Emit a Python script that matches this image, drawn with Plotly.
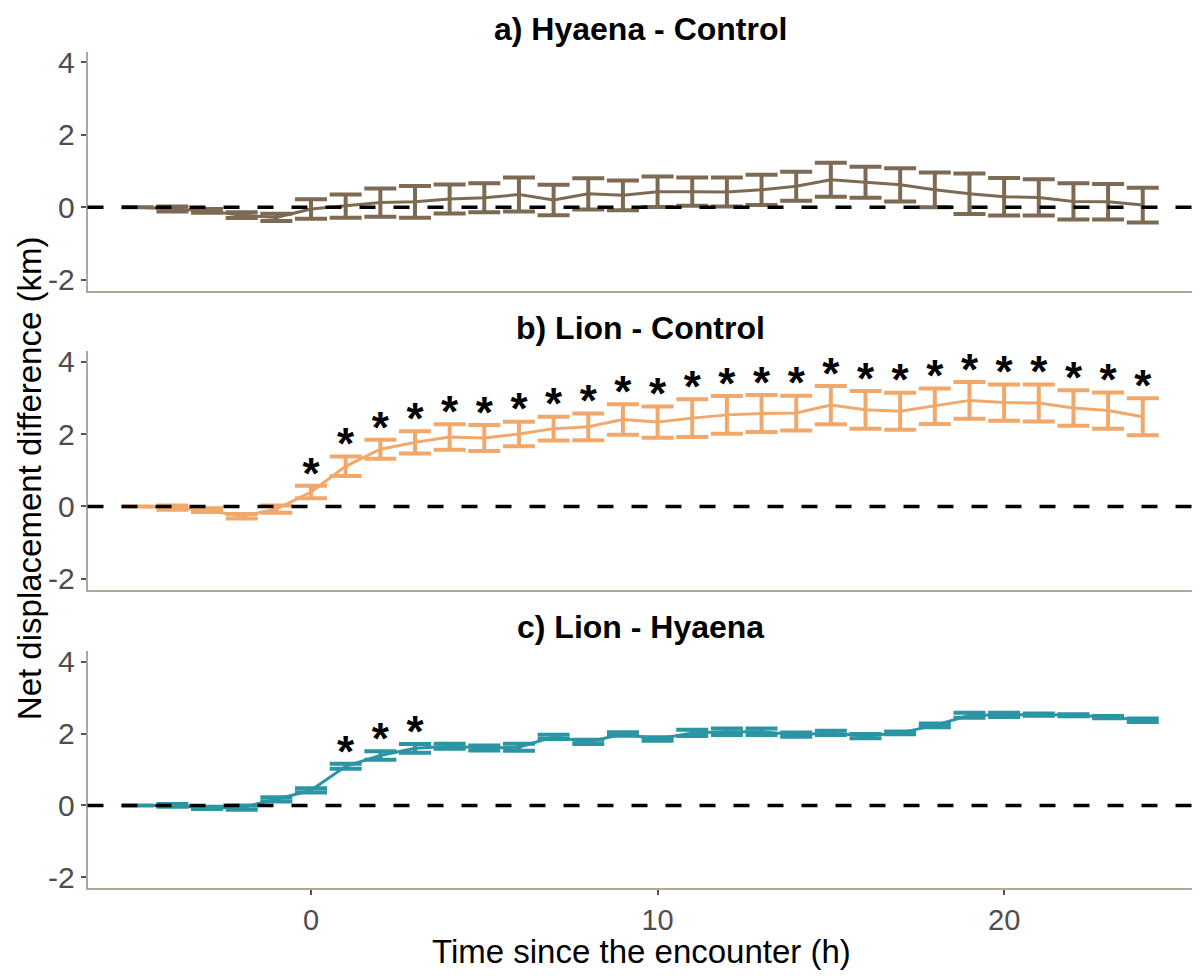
import plotly.graph_objects as go

# ---------------- data ----------------
hours = list(range(-5, 25))

a_mean = [0.0, -0.05, -0.10, -0.22, -0.28, -0.05, 0.03, 0.13, 0.15, 0.23, 0.26, 0.35, 0.20, 0.37, 0.33,
          0.43, 0.43, 0.42, 0.48, 0.58, 0.76, 0.69, 0.62, 0.48, 0.37, 0.29, 0.27, 0.16, 0.15, 0.06]
a_se = [0.0, 0.07, 0.05, 0.08, 0.10, 0.27, 0.32, 0.39, 0.44, 0.40, 0.40, 0.47, 0.42, 0.43, 0.41,
        0.42, 0.39, 0.40, 0.42, 0.40, 0.47, 0.43, 0.46, 0.48, 0.56, 0.52, 0.50, 0.50, 0.49, 0.48]

b_mean = [0.0, -0.03, -0.10, -0.27, -0.07, 0.40, 1.11, 1.58, 1.77, 1.92, 1.89, 2.00, 2.15, 2.20, 2.40,
          2.33, 2.44, 2.53, 2.57, 2.58, 2.80, 2.67, 2.63, 2.77, 2.93, 2.87, 2.86, 2.72, 2.65, 2.48]
b_se = [0.0, 0.06, 0.05, 0.06, 0.10, 0.17, 0.27, 0.26, 0.31, 0.35, 0.36, 0.34, 0.33, 0.37, 0.42,
        0.43, 0.52, 0.52, 0.51, 0.48, 0.53, 0.52, 0.51, 0.49, 0.51, 0.50, 0.51, 0.49, 0.50, 0.51]

c_mean = [0.0, 0.0, -0.07, -0.06, 0.17, 0.42, 1.09, 1.39, 1.59, 1.65, 1.60, 1.62, 1.91, 1.77, 1.99,
          1.85, 2.02, 2.05, 2.05, 1.97, 2.02, 1.93, 2.02, 2.23, 2.51, 2.52, 2.53, 2.51, 2.46, 2.37]
c_se = [0.0, 0.04, 0.03, 0.06, 0.06, 0.06, 0.07, 0.12, 0.12, 0.07, 0.07, 0.10, 0.06, 0.06, 0.05,
        0.05, 0.09, 0.09, 0.09, 0.06, 0.06, 0.06, 0.04, 0.05, 0.07, 0.06, 0.03, 0.03, 0.03, 0.05]

b_sig_hours = list(range(0, 25))
c_sig_hours = [1, 2, 3]

panel_titles = ["a) Hyaena - Control", "b) Lion - Control", "c) Lion - Hyaena"]
y_ticks = [-2, 0, 2, 4]
y_ticktext = ["-2", "0", "2", "4"]
x_ticks = [0, 10, 20]
x_title = "Time since the encounter (h)"
y_title = "Net displacement difference (km)"

# ---------------- style ----------------
colors = ["#7D6A53", "#F2A86A", "#2B95A3"]
axis_col = "#B0A797"
# the page body adds an 8px offset, so work in figure pixels = page pixels - 8
OFF = 8
W, H = 1192, 968
x_left_px, x_right_px = 87.5 - OFF, 1193 - OFF
panels_px = [(46 - OFF, 288 - OFF), (349 - OFF, 591 - OFF), (653 - OFF, 893 - OFF)]
title_px = [23 - OFF, 326 - OFF, 629 - OFF]
star_offset = 0.23
FONT = "Liberation Sans, Arial, sans-serif"

panels = [(a_mean, a_se, []), (b_mean, b_se, b_sig_hours), (c_mean, c_se, c_sig_hours)]

fig = go.Figure()
layout = dict(
    width=W, height=H, margin=dict(l=0, r=0, t=0, b=0),
    paper_bgcolor="white", plot_bgcolor="white", showlegend=False,
    font=dict(family=FONT),
)
shapes, annotations = [], []

for i, ((mean, se, sig), col, title, (top, bot), ty) in enumerate(
        zip(panels, colors, panel_titles, panels_px, title_px)):
    n = i + 1
    xa = "x" if n == 1 else f"x{n}"
    ya = "y" if n == 1 else f"y{n}"
    fig.add_trace(go.Scatter(
        x=hours, y=mean, mode="lines", xaxis=xa, yaxis=ya,
        line=dict(color=col, width=3),
        error_y=dict(type="data", array=se, visible=True, color=col, thickness=4, width=16),
        hoverinfo="skip"))
    if sig:
        sy = [mean[hours.index(h)] + se[hours.index(h)] + star_offset for h in sig]
        fig.add_trace(go.Scatter(
            x=sig, y=sy, mode="text", text=["<b>*</b>"] * len(sig), xaxis=xa, yaxis=ya,
            textposition="middle center",
            textfont=dict(size=44, color="black", family=FONT),
            hoverinfo="skip"))
    xdom = [x_left_px / W, x_right_px / W]
    ydom = [1 - bot / H, 1 - top / H]
    bottom = (n == 3)
    layout["xaxis" if n == 1 else f"xaxis{n}"] = dict(
        domain=xdom, range=[-6.45, 25.45], anchor=ya,
        showline=True, linecolor=axis_col, linewidth=1.5,
        showgrid=False, zeroline=False,
        tickvals=x_ticks, showticklabels=bottom,
        ticks="outside" if bottom else "", ticklen=5, tickcolor="#555555", tickwidth=1.5,
        tickfont=dict(size=29, color="#4D4D4D"),
    )
    layout["yaxis" if n == 1 else f"yaxis{n}"] = dict(
        domain=ydom, range=[-2.3, 4.3], anchor=xa,
        showline=True, linecolor=axis_col, linewidth=1.5,
        showgrid=False, zeroline=False,
        tickvals=y_ticks, ticktext=y_ticktext,
        ticks="outside", ticklen=5, tickcolor="#555555", tickwidth=1.5,
        tickfont=dict(size=30, color="#4D4D4D"),
    )
    # zero reference line
    shapes.append(dict(type="line", xref=f"{xa} domain", yref=ya, x0=0, x1=1, y0=0, y1=0,
                       line=dict(color="black", width=3.5, dash="16px,18px"), layer="above"))
    annotations.append(dict(text=f"<b>{title}</b>", xref="paper", yref="paper",
                            x=(xdom[0] + xdom[1]) / 2, y=1 - ty / H,
                            xanchor="center", yanchor="middle", showarrow=False,
                            font=dict(size=32, color="black")))

annotations.append(dict(text=x_title, xref="paper", yref="paper",
                        x=(641 - OFF) / W, y=1 - (957 - OFF) / H,
                        xanchor="center", yanchor="middle", showarrow=False,
                        font=dict(size=33, color="black")))
annotations.append(dict(text=y_title, xref="paper", yref="paper",
                        x=(29 - OFF) / W, y=1 - (478 - OFF) / H, textangle=-90,
                        xanchor="center", yanchor="middle", showarrow=False,
                        font=dict(size=33, color="black")))

layout["shapes"] = shapes
layout["annotations"] = annotations
fig.update_layout(**layout)
fig.write_html("out.html")
